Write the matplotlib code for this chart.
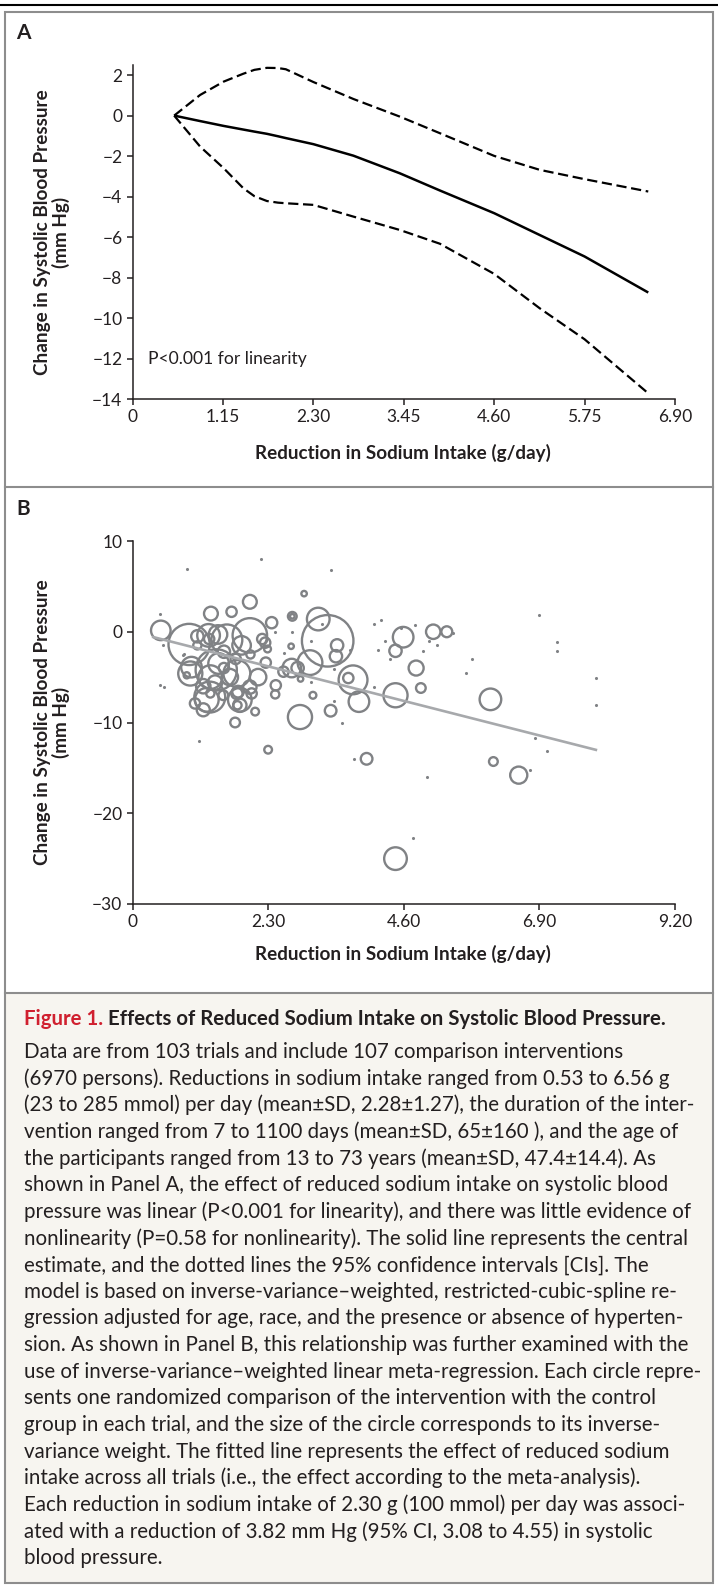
import matplotlib
matplotlib.use("Agg")
import matplotlib.pyplot as plt
from matplotlib.patches import Rectangle

plt.rcParams['font.family'] = ['Lato', 'DejaVu Sans']

# ---- panel A: spline estimate with 95% CI
a_x = [0.53, 0.86, 1.16, 1.41, 1.55, 1.71, 1.85, 1.95, 2.30, 2.81, 3.40, 3.91, 4.60, 5.18, 5.75, 6.56]
a_est = [0, -0.27, -0.51, -0.69, -0.79, -0.90, -1.02, -1.11, -1.41, -1.98, -2.85, -3.70, -4.82, -5.90, -6.96, -8.74]
a_upper = [0, 1.02, 1.68, 2.07, 2.26, 2.36, 2.35, 2.29, 1.66, 0.82, -0.05, -0.87, -1.99, -2.68, -3.14, -3.75]
a_lower = [0, -1.53, -2.60, -3.59, -3.98, -4.22, -4.30, -4.33, -4.41, -4.99, -5.65, -6.33, -7.82, -9.52, -11.05, -13.72]
a_xticks = [0, 1.15, 2.30, 3.45, 4.60, 5.75, 6.90]
a_yticks = [-14, -12, -10, -8, -6, -4, -2, 0, 2]

# ---- panel B: trials (x = sodium reduction g/day, y = change in SBP, w = inverse-variance weight)
b_x = [0.48, 0.96, 1.29, 1.33, 1.68, 1.99, 1.99, 1.60, 2.36, 2.91, 2.71, 2.71, 2.69, 2.25, 2.29,
       2.26, 2.70, 2.80, 2.56, 2.43, 2.13, 1.42, 0.98, 1.77, 1.26, 1.82, 1.99, 1.77, 2.42, 1.06,
       2.84, 1.74, 2.08, 2.30, 1.20, 1.82, 1.78, 2.02, 1.32, 1.31, 1.32, 1.54, 1.79, 1.65, 1.46,
       1.10, 1.30, 1.45, 1.85, 1.55, 1.00, 1.40, 1.20, 1.55, 1.75, 2.00, 1.10, 2.20, 0.92,
       3.15, 3.31, 3.47, 3.45, 3.01, 2.85, 3.74, 3.66, 3.84, 3.06, 3.36, 3.97, 4.46, 4.59, 4.46,
       4.81, 4.89, 5.10, 5.33, 6.07, 6.12, 6.55, 4.46,
       0.93, 2.18, 3.37, 0.47, 0.47, 0.54, 1.13, 0.52, 0.88, 0.86, 2.70, 2.57, 3.03, 3.21, 3.42,
       3.56, 3.03, 3.42, 3.69, 3.76, 4.10, 4.21, 4.79, 5.02, 5.16, 4.28, 4.17, 4.93, 4.37, 4.56,
       4.10, 5.75, 5.66, 5.44, 4.99, 4.75, 6.74, 6.90, 7.20, 7.20, 7.86, 7.86, 6.83, 7.03, 2.42]
b_y = [0.15, -1.4, -0.4, 2.0, 2.2, 3.3, -0.4, -0.9, 1.0, 4.2, 1.7, 1.7, -1.6, -1.2, -1.9,
       -3.4, -4.0, -4.0, -4.4, -5.9, -5.0, -4.2, -4.6, -4.6, -7.5, -7.5, -6.1, -6.8, -6.9, -7.9,
       -9.4, -10.0, -8.8, -13.0, -8.6, -8.1, -8.1, -6.8, -5.0, -7.2, -6.8, -7.0, -6.6, -5.0, -3.5,
       -0.5, -0.8, -0.3, -1.5, -2.2, -3.9, -5.6, -6.0, -4.0, -3.0, -2.5, -1.5, -0.8, -4.8,
       1.4, -1.0, -1.5, -2.7, -3.4, -5.2, -5.3, -5.1, -7.7, -7.0, -8.7, -14.0, -7.0, -0.6, -2.1,
       -4.0, -6.2, 0.0, 0.0, -7.45, -14.3, -15.8, -25.0,
       6.9, 8.0, 6.8, 2.0, -5.9, -6.1, -12.0, -1.5, -2.4, -2.6, 0.0, -2.3, -1.0, 0.9, -4.1,
       -10.1, -5.5, -7.65, -2.0, -14.0, 0.9, 1.3, 0.7, -1.0, -1.5, -1.0, -2.0, -2.1, -3.0, 0.4,
       -6.1, -3.0, -4.5, -0.1, -16.0, -22.7, -15.2, 1.9, -1.1, -2.1, -5.1, -8.1, -11.7, -13.1, 0.0]
b_w = [90, 400, 121, 45, 25, 45, 280, 225, 30, 7, 18, 5, 7, 25, 11,
       25, 81, 36, 25, 25, 64, 400, 137, 170, 132, 132, 42, 30, 16, 25,
       137, 22, 14, 14, 40, 42, 16, 25, 132, 225, 16, 22, 32, 64, 100,
       36, 25, 81, 81, 36, 100, 49, 49, 25, 25, 16, 16, 25, 9,
       121, 625, 36, 36, 144, 7, 196, 25, 100, 11, 32, 32, 137, 100, 36,
       53, 22, 49, 28, 110, 18, 69, 121,
       1, 1, 1, 1, 1, 1, 1, 1, 1, 1, 1, 1, 1, 1, 1,
       1, 1, 1, 1, 1, 1, 1, 1, 1, 1, 1, 1, 1, 1, 1,
       1, 1, 1, 1, 1, 1, 1, 1, 1, 1, 1, 1, 1, 1, 1]
fit_x = [0.33, 7.88]
fit_y = [-0.55, -13.05]
b_xticks = [0, 2.30, 4.60, 6.90, 9.20]
b_yticks = [-30, -20, -10, 0, 10]

ylab = "Change in Systolic Blood Pressure\n(mm Hg)"
xlab = "Reduction in Sodium Intake (g/day)"

cap_title = "Effects of Reduced Sodium Intake on Systolic Blood Pressure."
cap_lines = [
    "Data are from 103 trials and include 107 comparison interventions",
    "(6970 persons). Reductions in sodium intake ranged from 0.53 to 6.56 g",
    "(23 to 285 mmol) per day (mean\u00b1SD, 2.28\u00b11.27), the duration of the inter-",
    "vention ranged from 7 to 1100 days (mean\u00b1SD, 65\u00b1160 ), and the age of",
    "the participants ranged from 13 to 73 years (mean\u00b1SD, 47.4\u00b114.4). As",
    "shown in Panel A, the effect of reduced sodium intake on systolic blood",
    "pressure was linear (P<0.001 for linearity), and there was little evidence of",
    "nonlinearity (P=0.58 for nonlinearity). The solid line represents the central",
    "estimate, and the dotted lines the 95% confidence intervals [CIs]. The",
    "model is based on inverse-variance\u2013weighted, restricted-cubic-spline re-",
    "gression adjusted for age, race, and the presence or absence of hyperten-",
    "sion. As shown in Panel B, this relationship was further examined with the",
    "use of inverse-variance\u2013weighted linear meta-regression. Each circle repre-",
    "sents one randomized comparison of the intervention with the control",
    "group in each trial, and the size of the circle corresponds to its inverse-",
    "variance weight. The fitted line represents the effect of reduced sodium",
    "intake across all trials (i.e., the effect according to the meta-analysis).",
    "Each reduction in sodium intake of 2.30 g (100 mmol) per day was associ-",
    "ated with a reduction of 3.82 mm Hg (95% CI, 3.08 to 4.55) in systolic",
    "blood pressure.",
]

ink = '#231f20'
frame = '#8d8d8d'
W, H = 718, 1586

fig = plt.figure(figsize=(W / 100, H / 100), dpi=100)

# background layer in pixel coords: rules, frame, caption box
bg = fig.add_axes([0, 0, 1, 1])
bg.set_xlim(0, W)
bg.set_ylim(H, 0)
bg.axis('off')
bg.add_patch(Rectangle((5, 993), 708, 590, facecolor='#f7f5f0', edgecolor='none'))
bg.add_patch(Rectangle((5, 12), 708, 1571, facecolor='none', edgecolor=frame, lw=1.5))
bg.plot([5, 713], [487, 487], color=frame, lw=1.5)
bg.plot([5, 713], [993, 993], color=frame, lw=1.5)
bg.plot([0, W], [5, 5], color='black', lw=1.5)

bg.text(16, 33, "A", fontsize=15, fontweight='bold', color=ink, va='center')
bg.text(16, 509, "B", fontsize=15, fontweight='bold', color=ink, va='center')


def style_axes(ax, xticks, yticks):
    ax.set_facecolor('none')
    for s in ['top', 'right']:
        ax.spines[s].set_visible(False)
    for s in ['left', 'bottom']:
        ax.spines[s].set_linewidth(1.1)
        ax.spines[s].set_color(ink)
    ax.set_xticks(xticks)
    ax.set_xticklabels(['0' if t == 0 else f'{t:.2f}' for t in xticks])
    ax.set_yticks(yticks)
    ax.tick_params(direction='out', length=4.3, width=1.1, labelsize=12.5,
                   colors=ink, pad=3)


# ---- panel A
axA = fig.add_axes([132.5 / W, 1 - 399 / H, (675 - 132.5) / W, (399 - 65) / H])
axA.set_xlim(0, 6.9)
axA.set_ylim(-14, 2.5)
style_axes(axA, a_xticks, a_yticks)
axA.plot(a_x, a_est, color='black', lw=1.8, solid_capstyle='butt', solid_joinstyle='round')
axA.plot(a_x, a_upper, color='black', lw=1.6, dashes=(4.6, 2.1))
axA.plot(a_x, a_lower, color='black', lw=1.6, dashes=(4.6, 2.1))
axA.text(0.2, -12, "P<0.001 for linearity", fontsize=12.6, color=ink, va='center')

# ---- panel B
axB = fig.add_axes([132.5 / W, 1 - 904 / H, (675 - 132.5) / W, (904 - 541) / H])
axB.set_xlim(0, 9.2)
axB.set_ylim(-30, 10)
style_axes(axB, b_xticks, b_yticks)

rx = [x for x, w in zip(b_x, b_w) if w > 1]
ry = [y for y, w in zip(b_y, b_w) if w > 1]
rs = [2.2 * w for w in b_w if w > 1]
dx = [x for x, w in zip(b_x, b_w) if w <= 1]
dy = [y for y, w in zip(b_y, b_w) if w <= 1]
axB.scatter(rx, ry, s=rs, facecolors='none', edgecolors='#808285', linewidths=1.7,
            zorder=2, clip_on=False)
axB.scatter(dx, dy, s=5, color='#808285', linewidths=0, zorder=2, clip_on=False)
axB.plot(fit_x, fit_y, color='#a7a9ac', lw=1.9, zorder=3, solid_capstyle='butt')

# axis titles
for yc, xc in [(232, 453), (722.5, 954)]:
    bg.text(52, yc, ylab, rotation=90, ha='center', va='center', multialignment='center',
            fontsize=13.6, fontweight='bold', color=ink, linespacing=1.1)
    bg.text(403, xc, xlab, ha='center', va='center', fontsize=13.6,
            fontweight='bold', color=ink)

# ---- caption
t1 = bg.text(24, 1025, "Figure 1.", fontsize=14.7, fontweight='bold', color='#d0202f',
             va='baseline')
bg.annotate(" " + cap_title, xy=(1, 0), xycoords=t1, va='bottom', ha='left',
            fontsize=14.7, fontweight='bold', color=ink)
for i, line in enumerate(cap_lines):
    bg.text(24, 1058 + i * 26.65, line, fontsize=14.8, color=ink, va='baseline')

fig.savefig('out.png', dpi=100)
